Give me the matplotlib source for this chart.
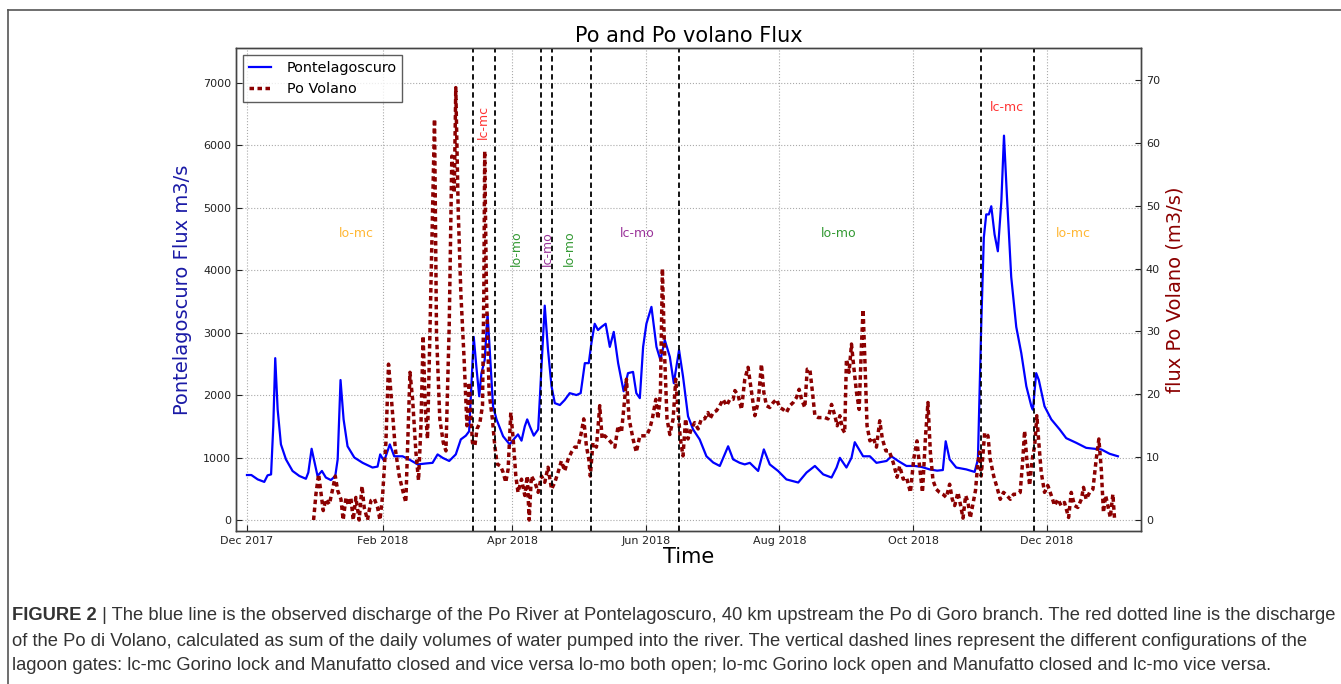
import numpy as np
import pandas as pd
import matplotlib
matplotlib.use('Agg')
import matplotlib.pyplot as plt
import matplotlib.dates as mdates
from matplotlib.lines import Line2D

# days since 2017-12-01 and discharge
start = pd.Timestamp('2017-12-01')

# Pontelagoscuro flux [m3/s]
pont_day = [0, 2, 4.9, 7.9, 9.4, 11, 12, 12.9, 14, 15.5,
            17.8, 20.8, 23.9, 26.9, 28, 29.5, 30.7, 32.2, 34.2, 36,
            38.3, 40.3, 41.4, 42.7, 44.1, 45.9, 49, 52.8, 57.3, 59.6,
            60.8, 62.6, 65.2, 67.2, 71, 74, 77.9, 81.7, 84.7, 87,
            89.3, 92.3, 95.3, 97.6, 99.9, 101.4, 102.6, 103.5, 104.7, 106,
            107, 108.5, 109.8, 110.8, 112.3, 113.9, 116.9, 119.9, 122.2, 123.7,
            125.3, 126.8, 127.9, 129.1, 130.9, 132.9, 134.1, 135.9, 137.4, 139,
            140.5, 142.8, 145, 147.3, 150.4, 152.3, 154.2, 156, 157.2, 158.7,
            160.2, 161.8, 163.7, 165.6, 167.4, 169.4, 171.9, 173.9, 176.2, 177.7,
            179.3, 180.8, 182.3, 184.6, 186.9, 188.7, 190.7, 193, 194.8, 197.2,
            199, 201.3, 203.6, 206.6, 209.7, 212.8, 215.8, 219.6, 221.9, 224.9,
            227.2, 229.5, 233.3, 235.9, 238.6, 242.4, 246.2, 251.6, 255.4, 259.2,
            263, 266.8, 269.1, 270.6, 273.6, 275.9, 277.4, 281.2, 284.3, 287.3,
            291.9, 294.1, 297.2, 301, 304.8, 307.8, 311.6, 315, 317.6, 318.9,
            320.7, 323.7, 328.3, 332.1, 333.6, 335.1, 336.3, 337.4, 338.6, 339.7,
            341.2, 342.7, 344.3, 345.5, 346.8, 348.8, 351.1, 353.4, 355.7, 358,
            358.7, 360.2, 361.4, 364, 367.1, 370.9, 373.9, 378.5, 383, 386.8,
            389.9, 393.7, 397.5]
pont_flux = [720, 720, 650, 610, 715, 730, 1500, 2590, 1770, 1210,
             970, 785, 705, 660, 760, 1140, 945, 705, 785, 680,
             640, 705, 970, 2240, 1610, 1180, 1000, 915, 840, 855,
             1050, 945, 1210, 1020, 1020, 970, 890, 905, 915, 1050,
             995, 945, 1050, 1290, 1350, 1420, 2300, 2930, 2450, 1980,
             2350, 2560, 3300, 2720, 1820, 1610, 1340, 1210, 1310, 1370,
             1270, 1500, 1610, 1500, 1350, 1450, 2240, 3430, 2720, 2140,
             1870, 1840, 1920, 2030, 2000, 2030, 2510, 2510, 2830, 3140,
             3040, 3090, 3140, 2770, 3010, 2510, 2060, 2350, 2370, 2030,
             1950, 2770, 3140, 3410, 2770, 2560, 2880, 2610, 2190, 2720,
             2300, 1660, 1450, 1290, 1020, 920, 865, 1180, 970, 915,
             890, 915, 785, 1130, 890, 785, 650, 600, 760, 865,
             730, 680, 840, 995, 840, 995, 1245, 1020, 1020, 915,
             945, 1020, 945, 865, 865, 850, 810, 790, 800, 1260,
             970, 840, 810, 770, 970, 3090, 4520, 4890, 4890, 5020,
             4570, 4300, 5100, 6150, 5210, 3890, 3090, 2670, 2140, 1820,
             1765, 2350, 2240, 1820, 1610, 1450, 1310, 1235, 1155, 1140,
             1130, 1060, 1020]

# Po Volano flux [m3/s]
volano_day = [30.4, 31.5, 32.7, 33.8, 34.8, 36, 37.6, 39.1, 40.3, 41.4,
              42.9, 43.9, 45.2, 46.4, 47.4, 48.5, 49.7, 51.2, 52.5, 53.5,
              55, 56.6, 58.1, 59.6, 60.7, 61.9, 63.4, 64.6, 65.7, 67.7,
              69.5, 71.3, 72.5, 73.3, 74.4, 75.6, 77.1, 78.3, 79.4, 80.4,
              81.4, 82.4, 83.5, 84.7, 85.6, 86.5, 88, 89.6, 90.8, 92.3,
              93.5, 94.6, 95.3, 96.4, 97.6, 99.1, 100.4, 101.4, 102.9, 104,
              105, 106.3, 107.5, 108.1, 108.5, 109.3, 110.5, 112, 113.1, 114.2,
              115.7, 116.9, 118.1, 119.2, 120.4, 121.5, 122.7, 123.7, 125.3, 126.8,
              127.9, 128.8, 129.8, 131.4, 132.9, 134.4, 135.9, 137.4, 139, 140.5,
              142, 143.5, 145, 146.6, 148.1, 149.6, 151.1, 152.6, 153.7, 154.9,
              156, 156.7, 157.9, 159.5, 161, 162.1, 163.3, 164.8, 166.3, 167.9,
              169.4, 170.9, 172.1, 173.2, 174.4, 176.2, 177.7, 179.3, 180.8, 182.3,
              183.8, 185, 186.6, 187.6, 188.7, 189.6, 190.7, 191.7, 193, 194.5,
              195.7, 196.7, 197.8, 199, 200.2, 201.3, 202.8, 204.3, 205.9, 207.4,
              208.9, 210.4, 211.3, 212.8, 214.3, 215.8, 217.3, 218.9, 220.4, 221.9,
              222.7, 224.2, 225.7, 227.2, 228.7, 230.3, 231.8, 233.3, 234.8, 235.9,
              237.1, 238.6, 240.2, 241.7, 243.2, 244.7, 246.2, 247.8, 249.3, 250.8,
              252, 253.1, 254.6, 255.7, 256.9, 258.1, 259.2, 260.7, 262.2, 263.7,
              265.2, 266.8, 268.3, 269.4, 270.6, 271.8, 272.8, 273.6, 274.8, 275.9,
              276.9, 278.2, 279.4, 280.5, 281.2, 282, 283, 284.3, 285.8, 287.3,
              288.8, 290, 291.6, 293.1, 294.9, 296.7, 297.9, 299.5, 301, 302.8,
              304.3, 305.8, 307.1, 308.3, 309.7, 310.8, 311.9, 313.1, 314.6, 316.1,
              317.6, 319.2, 320.7, 321.9, 323, 324.5, 325.6, 326.8, 328, 329.1,
              330.1, 331.3, 332.5, 333.6, 334.4, 335.1, 336.7, 338.2, 339.2, 340.8,
              342.3, 343.8, 345.3, 346.8, 348.4, 349.9, 351.4, 352.9, 354.1, 354.9,
              355.9, 357.2, 358.4, 359.5, 360.5, 361.4, 362.5, 364, 365.5, 367.1,
              368.6, 370.1, 371.6, 373.1, 375, 376.2, 377.7, 379.2, 380.8, 381.8,
              383, 384.6, 386.1, 387.6, 388.8, 389.9, 390.9, 391.9, 392.9, 394,
              395.2, 396]
volano_flux = [0, 4.2, 7.3, 4.2, 1.5, 3.3, 2.5, 4.9, 7.0, 4.7,
               3.3, 0, 3.6, 2.3, 3.6, 0, 3.6, 0, 5.4, 2.0,
               0, 3.1, 3.4, 2.0, 0, 3.9, 12.3, 24.8, 20.3, 11.3,
               7.0, 4.4, 2.8, 11.3, 23.5, 19.2, 10.8, 6.3, 15.0, 29.3,
               17.6, 12.9, 29.8, 49.4, 63.8, 29.8, 16.1, 12.3, 11.0, 30.9,
               57.9, 52.1, 68.8, 49.4, 36.2, 25.6, 15.0, 21.9, 12.3, 11.8,
               14.5, 15.5, 18.2, 36.2, 58.7, 36.2, 20.3, 16.1, 11.8, 8.9,
               8.6, 7.6, 6.0, 8.1, 17.1, 12.9, 7.0, 4.4, 6.5, 3.9,
               7.0, 0, 7.0, 6.0, 4.4, 7.0, 6.0, 8.4, 4.9, 6.0,
               7.6, 9.4, 7.8, 9.7, 10.8, 11.6, 11.6, 13.9, 16.1, 11.8,
               9.7, 7.0, 12.3, 11.6, 18.2, 12.9, 13.4, 12.9, 12.3, 11.6,
               15.0, 13.9, 18.2, 22.4, 16.1, 12.9, 10.8, 13.4, 13.4, 13.4,
               14.5, 16.1, 19.2, 16.1, 20.3, 40.0, 25.4, 16.1, 13.6, 16.1,
               22.4, 17.6, 12.9, 10.2, 16.1, 12.9, 14.5, 15.5, 14.5, 16.1,
               16.1, 17.1, 16.1, 17.1, 17.4, 18.2, 19.2, 18.2, 19.2, 19.2,
               20.6, 19.8, 17.6, 22.4, 24.3, 20.3, 16.6, 18.7, 24.8, 20.3,
               18.2, 17.9, 18.7, 19.2, 17.9, 17.6, 17.1, 18.2, 18.7, 19.5,
               20.8, 19.2, 17.9, 24.0, 24.0, 20.3, 16.6, 16.3, 16.3, 16.3,
               16.1, 18.4, 16.6, 15.0, 16.6, 14.5, 13.9, 25.6, 23.5, 28.0,
               24.5, 20.3, 17.6, 28.2, 33.5, 25.6, 15.0, 12.6, 13.1, 11.6,
               15.8, 12.9, 11.0, 11.0, 9.2, 6.8, 8.6, 6.5, 6.8, 4.4,
               9.7, 12.6, 8.1, 4.4, 13.4, 18.7, 10.8, 6.3, 4.9, 4.4,
               4.1, 3.6, 5.7, 3.3, 2.3, 4.4, 2.5, 0.3, 3.9, 2.8,
               0.3, 2.5, 4.7, 9.2, 10.8, 7.0, 13.9, 13.4, 9.7, 7.0,
               5.2, 3.3, 4.4, 3.9, 3.3, 4.1, 4.1, 4.4, 9.7, 14.2,
               9.7, 5.5, 9.7, 11.8, 16.6, 12.3, 7.6, 4.4, 5.5, 3.9,
               2.3, 3.3, 2.3, 2.8, 0.4, 4.4, 2.3, 2.0, 3.3, 5.2,
               3.3, 4.4, 4.9, 9.7, 12.9, 8.1, 1.2, 3.9, 2.3, 0.4,
               4.1, 0]

# lagoon gate configuration changes
gate_dates = ['2018-03-14', '2018-03-24', '2018-04-14', '2018-04-19',
              '2018-05-07', '2018-06-16', '2018-11-01', '2018-11-25']

# configuration labels (date, flux position on left axis)
conf_text = ['lo-mc', 'lc-mc', 'lo-mo', 'lc-mo', 'lo-mo', 'lc-mo', 'lo-mo', 'lc-mc', 'lo-mc']
conf_date = ['2018-01-20', '2018-03-19', '2018-04-03', '2018-04-17', '2018-04-27',
             '2018-05-28', '2018-08-28', '2018-11-13', '2018-12-13']
conf_y = [4590, 6370, 4350, 4350, 4350, 4590, 4590, 6600, 4590]
conf_rot = [0, 90, 90, 90, 90, 0, 0, 0, 0]
conf_color = {'lo-mc': 'orange', 'lc-mc': 'red', 'lo-mo': 'green', 'lc-mo': 'purple'}

t_pont = start + pd.to_timedelta(np.array(pont_day), unit='D')
t_vol = start + pd.to_timedelta(np.array(volano_day), unit='D')

fig = plt.figure(figsize=(13.41, 6.84), dpi=100)
ax = fig.add_axes([0.176, 0.2241, 0.6748, 0.7057])
ax2 = ax.twinx()

l1, = ax.plot(t_pont, pont_flux, color='blue', lw=1.6, label='Pontelagoscuro')
l2, = ax2.plot(t_vol, volano_flux, color='#8b0000', lw=2.5,
               linestyle=(0, (1.3, 1.0)), label='Po Volano')
for d in gate_dates:
    ax2.axvline(pd.Timestamp(d), color='k', lw=1.3, linestyle=(0, (3, 2)))

for txt, d, y, r in zip(conf_text, conf_date, conf_y, conf_rot):
    ax.text(pd.Timestamp(d), y, txt, color=conf_color[txt], alpha=0.8,
            fontsize=9, rotation=r, ha='center', va='center')

ax.set_xlim(pd.Timestamp('2017-11-26'), pd.Timestamp('2019-01-13'))
ax.set_ylim(-171, 7552)
ax2.set_ylim(-1.7, 75.1)
ax.set_yticks(range(0, 7001, 1000))
ax2.set_yticks(range(0, 71, 10))
ax.xaxis.set_major_locator(mdates.MonthLocator(bymonth=[2, 4, 6, 8, 10, 12]))
ax.xaxis.set_major_formatter(mdates.DateFormatter('%b %Y'))

ax.grid(True, linestyle=':', color='#aaaaaa', lw=0.8)
for a in (ax, ax2):
    a.tick_params(direction='in', length=4, labelsize=8, colors='#222222')
    for s in a.spines.values():
        s.set_color('#444444')
        s.set_linewidth(1.0)

ax.set_title('Po and Po volano Flux', fontsize=15, pad=4)
ax.set_xlabel('Time', fontsize=15, labelpad=1)
ax.set_ylabel('Pontelagoscuro Flux m3/s', fontsize=14, color='#1a1aa6', labelpad=8)
ax2.set_ylabel('flux Po Volano (m3/s)', fontsize=14, color='#8b0000', labelpad=4)

leg = ax2.legend([l1, l2], ['Pontelagoscuro', 'Po Volano'], loc='upper left',
                 fontsize=10.4, fancybox=False, borderaxespad=0.5,
                 handlelength=1.5, handletextpad=1.1)
leg.get_frame().set_edgecolor('#333333')
leg.get_frame().set_linewidth(1.0)

# frame of the figure panel
fig.add_artist(Line2D([8 / 1341, 1], [1 - 9.5 / 684] * 2, transform=fig.transFigure,
                      color='#555555', lw=1.2))
fig.add_artist(Line2D([8 / 1341] * 2, [0, 1 - 9.5 / 684], transform=fig.transFigure,
                      color='#555555', lw=1.2))

# caption
cap_lines = [
    ' | The blue line is the observed discharge of the Po River at Pontelagoscuro, 40 km upstream the Po di Goro branch. The red dotted line is the discharge',
    'of the Po di Volano, calculated as sum of the daily volumes of water pumped into the river. The vertical dashed lines represent the different configurations of the',
    'lagoon gates: lc-mc Gorino lock and Manufatto closed and vice versa lo-mo both open; lo-mc Gorino lock open and Manufatto closed and lc-mo vice versa.',
]
cap_y = [1 - 615 / 684, 1 - 641 / 684, 1 - 666 / 684]
cap_kw = dict(fontsize=13.25, family='Liberation Sans', color='#333333', va='center')
bold = fig.text(12 / 1341, cap_y[0], 'FIGURE 2', fontweight='bold', **cap_kw)
r = fig.canvas.get_renderer()
bb = bold.get_window_extent(renderer=r)
fig.text(bb.x1 / fig.bbox.width, cap_y[0], cap_lines[0], **cap_kw)
fig.text(12 / 1341, cap_y[1], cap_lines[1], **cap_kw)
fig.text(12 / 1341, cap_y[2], cap_lines[2], **cap_kw)

fig.savefig('out.png', dpi=100)
